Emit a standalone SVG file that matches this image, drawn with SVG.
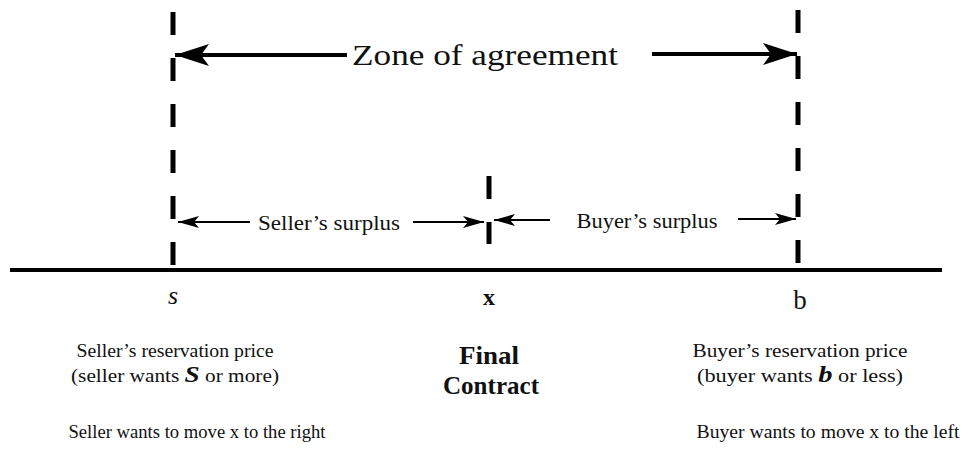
<svg xmlns="http://www.w3.org/2000/svg" width="974" height="458" viewBox="0 0 974 458">
<style>
.t{font-family:"Liberation Serif","Times New Roman",serif;fill:#111}
.dash{stroke:#000;stroke-width:5;fill:none}
.ln{stroke:#000;fill:none}
</style>
<defs>
<marker id="big" markerUnits="userSpaceOnUse" markerWidth="36" markerHeight="24" refX="34" refY="12" orient="auto">
<path d="M0,1 L34,12 L0,23 L8,12 Z" fill="#000"/>
</marker>
<marker id="sm" markerUnits="userSpaceOnUse" markerWidth="22" markerHeight="14" refX="21" refY="7" orient="auto">
<path d="M0,1 L21,7 L0,13 L5,7 Z" fill="#000"/>
</marker>
</defs>
<rect width="974" height="458" fill="#fff"/>
<g id="axis">
<line class="ln" x1="10" y1="270" x2="942" y2="270" stroke-width="4"/>
</g>
<g id="seller-limit">
<line class="dash" x1="173" y1="12" x2="173" y2="268" stroke-dasharray="23 23"/>
<text class="t" x="173" y="304" font-size="26" font-style="italic" text-anchor="middle">s</text>
<text class="t" x="175" y="357" font-size="18" text-anchor="middle" textLength="197" lengthAdjust="spacingAndGlyphs">Seller’s reservation price</text>
<text class="t" x="175" y="382" font-size="18" text-anchor="middle" textLength="208" lengthAdjust="spacingAndGlyphs">(seller wants <tspan font-weight="bold" font-style="italic" font-size="23">S</tspan> or more)</text>
<text class="t" x="197" y="438" font-size="18" text-anchor="middle" textLength="257" lengthAdjust="spacingAndGlyphs">Seller wants to move x to the right</text>
</g>
<g id="buyer-limit">
<line class="dash" x1="798" y1="10" x2="798" y2="268" stroke-dasharray="23 23"/>
<text class="t" x="800" y="309" font-size="27" text-anchor="middle">b</text>
<text class="t" x="800" y="357" font-size="18" text-anchor="middle" textLength="215" lengthAdjust="spacingAndGlyphs">Buyer’s reservation price</text>
<text class="t" x="800" y="382" font-size="18" text-anchor="middle" textLength="206" lengthAdjust="spacingAndGlyphs">(buyer wants <tspan font-weight="bold" font-style="italic" font-size="23">b</tspan> or less)</text>
<text class="t" x="828" y="438" font-size="18" text-anchor="middle" textLength="263" lengthAdjust="spacingAndGlyphs">Buyer wants to move x to the left</text>
</g>
<g id="final-contract">
<line class="dash" x1="489" y1="176" x2="489" y2="244" stroke-dasharray="23 23"/>
<text class="t" x="489" y="305" font-size="24" font-weight="bold" text-anchor="middle">x</text>
<text class="t" x="489" y="364" font-size="25" font-weight="bold" text-anchor="middle" textLength="60" lengthAdjust="spacingAndGlyphs">Final</text>
<text class="t" x="491" y="394" font-size="25" font-weight="bold" text-anchor="middle" textLength="96" lengthAdjust="spacingAndGlyphs">Contract</text>
</g>
<g id="connectors">
<line class="ln" x1="347" y1="55" x2="175" y2="55" stroke-width="4" marker-end="url(#big)"/>
<line class="ln" x1="652" y1="54" x2="797" y2="54" stroke-width="4" marker-end="url(#big)"/>
<line class="ln" x1="250" y1="222" x2="178" y2="222" stroke-width="2" marker-end="url(#sm)"/>
<line class="ln" x1="413" y1="222" x2="484" y2="222" stroke-width="2" marker-end="url(#sm)"/>
<line class="ln" x1="550" y1="220" x2="494" y2="220" stroke-width="2" marker-end="url(#sm)"/>
<line class="ln" x1="738" y1="219" x2="796" y2="219" stroke-width="2" marker-end="url(#sm)"/>
</g>
<g id="labels">
<text class="t" x="485" y="65" font-size="29" text-anchor="middle" textLength="266" lengthAdjust="spacingAndGlyphs">Zone of agreement</text>
<text class="t" x="329" y="230" font-size="20" text-anchor="middle" textLength="142" lengthAdjust="spacingAndGlyphs">Seller’s surplus</text>
<text class="t" x="647" y="228" font-size="20" text-anchor="middle" textLength="141" lengthAdjust="spacingAndGlyphs">Buyer’s surplus</text>
</g>
</svg>
